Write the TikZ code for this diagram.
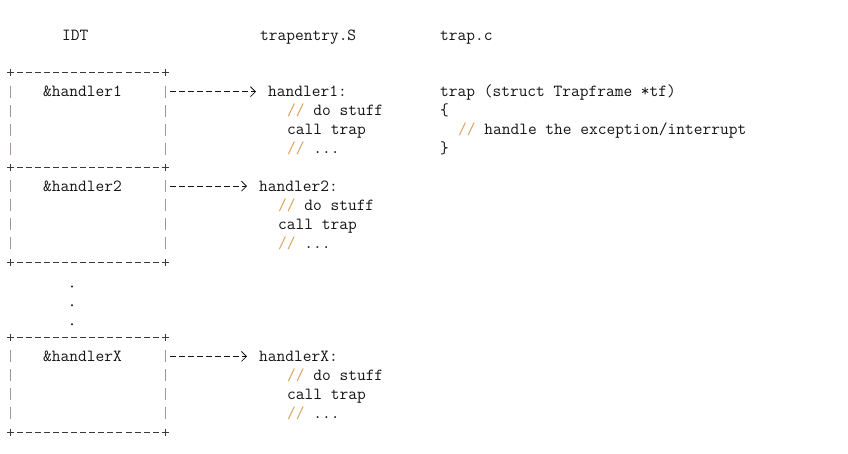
\documentclass[tikz,border=0pt]{standalone}
\usepackage{fontspec}
\usetikzlibrary{positioning, arrows.meta, calc}
\definecolor{idtink}{HTML}{141414}
\definecolor{idtrule}{HTML}{3A3A3A}
\definecolor{idtbar}{HTML}{A8909E}
\definecolor{idtslash}{HTML}{D9A05B}

\tikzset{
  code/.style={font=\ttfamily\fontsize{16.95}{18.9}\selectfont, text=idtink,
               inner sep=0pt, anchor=base west},
  idtbox/.style={minimum width=154pt, minimum height=94.5pt, inner sep=0pt},
  hrule/.style={draw=idtrule, line width=0.8pt, dash pattern=on 6pt off 3.06pt},
  vrule/.style={draw=idtbar, line width=0.8pt, dash pattern=on 12pt off 6.9pt},
  corner/.style={draw=idtrule, line width=0.8pt},
  ptr/.style={draw=idtink, line width=0.8pt, dash pattern=on 6pt off 3pt,
              -{Straight Barb[length=5pt, width=10pt]}},
}
\newcommand{\cmt}{\textcolor{idtslash}{//}}

\begin{document}
\begin{tikzpicture}[x=1pt, y=-1pt]
  \useasboundingbox (0,0) rectangle (848,453);

  % column headings
  \node[code] (idt) at (62,40.2) {IDT};
  \node[code] (entry) at (260,40.2) {trapentry.S};
  \node[code] (trapc) at (440,40.2) {trap.c};

  % IDT entries
  \node[idtbox] (e1) at (88,120.25) {};
  \node[idtbox] (e2) at (88,214.75) {};
  \node[idtbox] (ex) at (88,384.85) {};
  \foreach \e in {e1,e2,ex} {
    \draw[hrule] ($(\e.north west)+(6,0)$) -- ($(\e.north east)+(-6,0)$);
    \draw[hrule] ($(\e.south west)+(6,0)$) -- ($(\e.south east)+(-6,0)$);
    \draw[vrule] ($(\e.north west)+(0,13)$) -- ($(\e.south west)+(0,-13)$);
    \draw[vrule] ($(\e.north east)+(0,13)$) -- ($(\e.south east)+(0,-13)$);
    \foreach \c in {north west, north east, south west, south east}
      \draw[corner] (\e.\c) +(-3.5,0) -- +(3.5,0) +(0,-3.5) -- +(0,3.5);
  }
  \node[code] (l1) at (43,96.9) {\&handler1};
  \node[code] (l2) at (43,191.4) {\&handler2};
  \node[code] (lx) at (43,361.5) {\&handlerX};

  % more entries
  \fill[idtink] (72,286.5) circle (1.1pt);
  \fill[idtink] (72,305.3) circle (1.1pt);
  \fill[idtink] (72,324.2) circle (1.1pt);

  % trapentry.S
  \node[code] (h1) at (268,96.9) {handler1:};
  \node[code] (h1s) at (287,115.8) {\cmt{} do stuff};
  \node[code] (h1c) at (287,134.7) {call trap};
  \node[code] (h1d) at (287,153.6) {\cmt{} ...};

  \node[code] (h2) at (259,191.4) {handler2:};
  \node[code] (h2s) at (278,210.3) {\cmt{} do stuff};
  \node[code] (h2c) at (278,229.2) {call trap};
  \node[code] (h2d) at (278,248.1) {\cmt{} ...};

  \node[code] (hx) at (259,361.5) {handlerX:};
  \node[code] (hxs) at (287,380.4) {\cmt{} do stuff};
  \node[code] (hxc) at (287,399.3) {call trap};
  \node[code] (hxd) at (287,418.2) {\cmt{} ...};

  % trap.c
  \node[code] (trap) at (440,96.9) {trap (struct Trapframe *tf)};
  \node[code] (open) at (440,115.8) {\{};
  \node[code] (body) at (458,134.7) {\cmt{} handle the exception/interrupt};
  \node[code] (close) at (440,153.6) {\}};

  % IDT -> handlers
  \draw[ptr, shorten <=5pt, shorten >=12pt] (e1.east |- h1.west) -- (h1.west);
  \draw[ptr, shorten <=5pt, shorten >=12pt] (e2.east |- h2.west) -- (h2.west);
  \draw[ptr, shorten <=5pt, shorten >=12pt] (ex.east |- hx.west) -- (hx.west);
\end{tikzpicture}
\end{document}
